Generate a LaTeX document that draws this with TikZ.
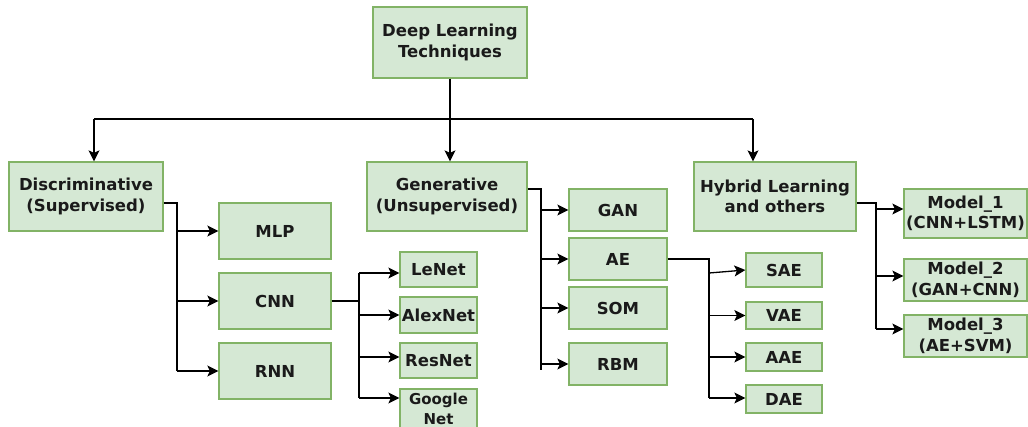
\documentclass[tikz,border=0pt]{standalone}
\usepackage{fontspec}
\setmainfont{DejaVu Sans}
\usetikzlibrary{arrows.meta}
\definecolor{boxfill}{HTML}{D5E8D4}
\definecolor{boxline}{HTML}{82B366}
\definecolor{ink}{HTML}{1A1A1A}
\begin{document}
\begin{tikzpicture}[x=1pt,y=-1pt,
  box/.style={draw=boxline, fill=boxfill, line width=1.3pt, inner sep=0pt,
    align=center, text=ink, font=\fontsize{16.5}{20.5}\selectfont\bfseries},
  smallbox/.style={box, font=\fontsize{15}{20}\selectfont\bfseries},
  link/.style={line width=1.3pt, black},
  arr/.style={link, -{Stealth[length=11pt,width=11pt,inset=2.5pt]}}]
\useasboundingbox (0,0) rectangle (1028,426);

% root and the three families
\node[box, minimum width=154pt, minimum height=71pt] (root) at (450,42.5) {Deep Learning\\ Techniques};
\node[box, minimum width=154pt, minimum height=69pt] (disc) at (86,196.5) {Discriminative\\(Supervised)};
\node[box, minimum width=160pt, minimum height=69pt] (gen) at (447,196.5) {Generative\\(Unsupervised)};
\node[box, minimum width=162pt, minimum height=69pt] (hyb) at (775,196.5) {Hybrid Learning\\and others};

% discriminative models
\node[box, minimum width=112pt, minimum height=56pt] (mlp) at (275,231) {MLP};
\node[box, minimum width=112pt, minimum height=56pt] (cnn) at (275,301) {CNN};
\node[box, minimum width=112pt, minimum height=56pt] (rnn) at (275,371) {RNN};

% CNN variants
\node[box, minimum width=77pt, minimum height=35pt] (lenet) at (438.5,269.5) {LeNet};
\node[box, minimum width=77pt, minimum height=36pt] (alex) at (438.5,315) {AlexNet};
\node[box, minimum width=77pt, minimum height=35pt] (res) at (438.5,360.5) {ResNet};
\node[smallbox, minimum width=77pt, minimum height=39pt] (goo) at (438.5,408.5) {Google\\Net};

% generative models
\node[box, minimum width=98pt, minimum height=42pt] (gan) at (618,210) {GAN};
\node[box, minimum width=98pt, minimum height=42pt] (ae) at (618,259) {AE};
\node[box, minimum width=98pt, minimum height=42pt] (som) at (618,308) {SOM};
\node[box, minimum width=98pt, minimum height=42pt] (rbm) at (618,364) {RBM};

% autoencoder variants
\node[box, minimum width=76pt, minimum height=34pt] (sae) at (784,270) {SAE};
\node[box, minimum width=76pt, minimum height=27pt] (vae) at (784,315.5) {VAE};
\node[box, minimum width=76pt, minimum height=28pt] (aae) at (784,357) {AAE};
\node[box, minimum width=76pt, minimum height=28pt] (dae) at (784,399) {DAE};

% hybrid models
\node[box, minimum width=123pt, minimum height=49pt] (m1) at (965.5,213.5) {Model\_1\\(CNN+LSTM)};
\node[box, minimum width=123pt, minimum height=42pt] (m2) at (965.5,280) {Model\_2\\(GAN+CNN)};
\node[box, minimum width=123pt, minimum height=42pt] (m3) at (965.5,336) {Model\_3\\(AE+SVM)};

% top level split
\coordinate (bl) at (94,119);
\coordinate (br) at (753,119);
\draw[arr] (root.south) -- (root.south |- gen.north);
\draw[link] (bl) -- (br);
\draw[arr] (bl) -- (bl |- disc.north);
\draw[arr] (br) -- (br |- hyb.north);

% discriminative branch
\coordinate (dj) at (177,203);
\coordinate (djend) at (177,371);
\draw[link] (dj -| disc.east) -- (dj) -- (djend);
\draw[arr] (dj |- mlp.west) -- (mlp.west);
\draw[arr] (dj |- cnn.west) -- (cnn.west);
\draw[arr] (dj |- rnn.west) -- (rnn.west);

% CNN branch
\coordinate (cj) at (359,273);
\coordinate (cjend) at (359,398);
\draw[link] (cnn.east) -- (cnn.east -| cj);
\draw[link] (cj) -- (cjend);
\draw[arr] (cj) -- ([yshift=-3.5pt]lenet.west);
\draw[arr] (cj |- alex.west) -- (alex.west);
\draw[arr] ([yshift=3.5pt]res.west -| cj) -- ([yshift=3.5pt]res.west);
\draw[arr] (cjend) -- (cjend -| goo.west);

% generative branch
\coordinate (gj) at (541,189);
\coordinate (gjend) at (541,370);
\draw[link] (gj -| gen.east) -- (gj) -- (gjend);
\draw[arr] (gj |- gan.west) -- (gan.west);
\draw[arr] (gj |- ae.west) -- (ae.west);
\draw[arr] (gj |- som.west) -- (som.west);
\draw[arr] (gj |- rbm.west) -- (rbm.west);

% autoencoder branch
\coordinate (aj) at (709,259);
\coordinate (ajsae) at (709,273);
\coordinate (ajend) at (709,398);
\draw[link] (ae.east) -- (aj) -- (ajend);
\draw[arr] (ajsae) -- (sae.west);
\draw[arr] (aj |- vae.west) -- (vae.west);
\draw[arr] (aj |- aae.west) -- (aae.west);
\draw[arr] (ajend) -- (ajend -| dae.west);

% hybrid branch
\coordinate (hj) at (876,203);
\coordinate (hjend) at (876,329);
\draw[link] (hj -| hyb.east) -- (hj) -- (hjend);
\draw[arr] ([yshift=4.5pt]m1.west -| hj) -- ([yshift=4.5pt]m1.west);
\draw[arr] ([yshift=4pt]m2.west -| hj) -- ([yshift=4pt]m2.west);
\draw[arr] (hjend) -- (hjend -| m3.west);
\end{tikzpicture}
\end{document}
